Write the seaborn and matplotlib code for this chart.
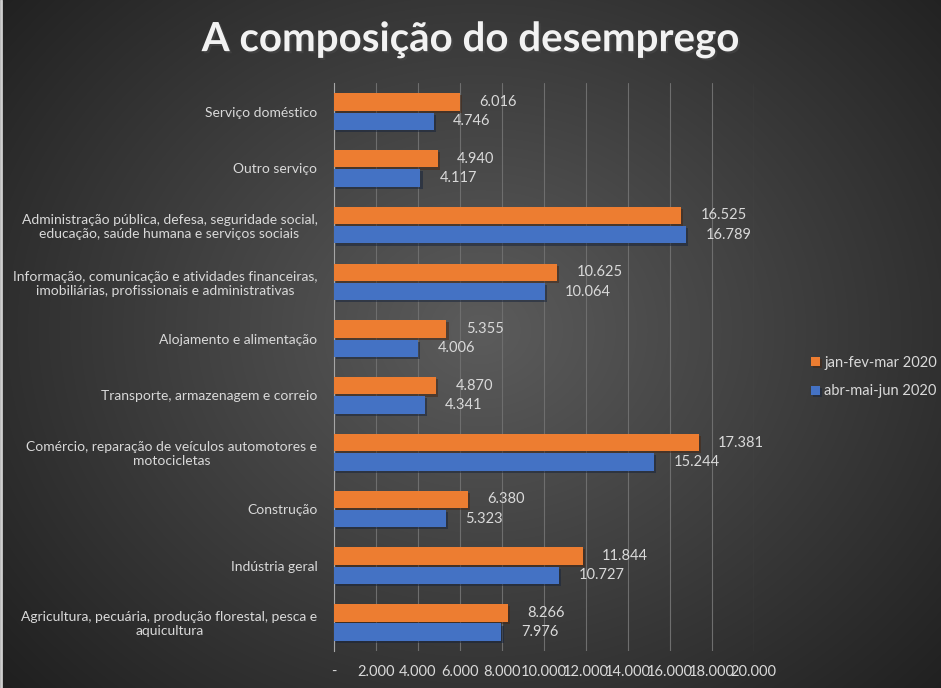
import numpy as np
import matplotlib
matplotlib.use('Agg')
import matplotlib.pyplot as plt
import matplotlib.patheffects as pe
import pandas as pd
import seaborn as sns

categorias = [
    'Serviço doméstico',
    'Outro serviço',
    'Administração pública, defesa, seguridade social,\neducação, saúde humana e serviços sociais',
    'Informação, comunicação e atividades financeiras,\nimobiliárias, profissionais e administrativas',
    'Alojamento e alimentação',
    'Transporte, armazenagem e correio',
    'Comércio, reparação de veículos automotores e\nmotocicletas',
    'Construção',
    'Indústria geral',
    'Agricultura, pecuária, produção florestal, pesca e\naquicultura',
]
trimestres = ['jan-fev-mar 2020', 'abr-mai-jun 2020']
jan_fev_mar = [6016, 4940, 16525, 10625, 5355, 4870, 17381, 6380, 11844, 8266]
abr_mai_jun = [4746, 4117, 16789, 10064, 4006, 4341, 15244, 5323, 10727, 7976]
ticks_x = list(range(0, 20001, 2000))

cores = {'jan-fev-mar 2020': '#ED7D31', 'abr-mai-jun 2020': '#4472C4'}
texto = '#D9D9D9'

df = pd.DataFrame({
    'categoria': categorias * 2,
    'trimestre': [trimestres[0]] * len(categorias) + [trimestres[1]] * len(categorias),
    'valor': jan_fev_mar + abr_mai_jun,
})


def fmt(v):
    return '-' if v == 0 else f'{v:,.0f}'.replace(',', '.')


sns.set_style('dark')
plt.rcParams['font.family'] = ['Lato', 'DejaVu Sans']

fig = plt.figure(figsize=(9.41, 6.88), dpi=100)

# fundo com gradiente radial
bg = fig.add_axes([0, 0, 1, 1], zorder=-10)
yy, xx = np.mgrid[0:688, 0:941]
r = np.sqrt(((xx - 480) / 620) ** 2 + ((yy - 330) / 520) ** 2)
shade = np.clip(0.36 - 0.23 * r, 0.12, 0.4)
bg.imshow(np.dstack([shade] * 3), aspect='auto', extent=[0, 1, 0, 1])
bg.axvline(0.001, color='#cfcfcf', lw=2)
bg.set_axis_off()

ax = fig.add_axes([0.355, 0.054, 0.446, 0.825])
ax.patch.set_alpha(0)

sns.barplot(data=df, y='categoria', x='valor', hue='trimestre', hue_order=trimestres,
            palette=cores, saturation=1, linewidth=0, orient='h', width=0.68, gap=0.1,
            ax=ax, zorder=3)

for p in ax.patches:
    p.set_path_effects([pe.SimplePatchShadow(offset=(1.5, -1.5), alpha=0.5), pe.Normal()])

for cont in ax.containers:
    ax.bar_label(cont, labels=[fmt(v) for v in cont.datavalues], padding=14,
                 color=texto, fontsize=10.5)

ax.set_xlim(0, 20000)
ax.set_ylim(len(categorias) - 0.5, -0.5)
ax.set_xticks(ticks_x)
ax.set_xticklabels([fmt(t) for t in ticks_x], color=texto, fontsize=10.5)
ax.set_yticks(range(len(categorias)))
ax.set_yticklabels(categorias, color=texto, fontsize=10)
for lb in ax.get_yticklabels():
    lb.set_multialignment('center')
ax.set_yticks(np.arange(-0.5, len(categorias), 1), minor=True)
ax.tick_params(axis='y', which='major', length=0, pad=12)
ax.tick_params(axis='y', which='minor', length=4, color='#a6a6a6', width=1, direction='out')
ax.tick_params(axis='x', length=0, pad=10)
ax.grid(axis='x', color='#6e6e6e', lw=0.8, zorder=0)
ax.grid(axis='y', visible=False)
for s in ['top', 'right', 'bottom']:
    ax.spines[s].set_visible(False)
ax.spines['left'].set_color('#a6a6a6')
ax.set_xlabel('')
ax.set_ylabel('')

leg = ax.legend(loc='center left', bbox_to_anchor=(0.848, 0.452), bbox_transform=fig.transFigure,
                frameon=False, fontsize=10.5, handlelength=0.6, handleheight=0.6,
                handletextpad=0.3, labelspacing=1.0)
for t in leg.get_texts():
    t.set_color(texto)

fig.text(0.5, 0.942, 'A composição do desemprego', ha='center', va='center',
         color='#F2F2F2', fontsize=29, fontweight='bold',
         path_effects=[pe.withSimplePatchShadow(offset=(1.5, -1.5), alpha=0.6)])

fig.savefig('out.png', dpi=100)
